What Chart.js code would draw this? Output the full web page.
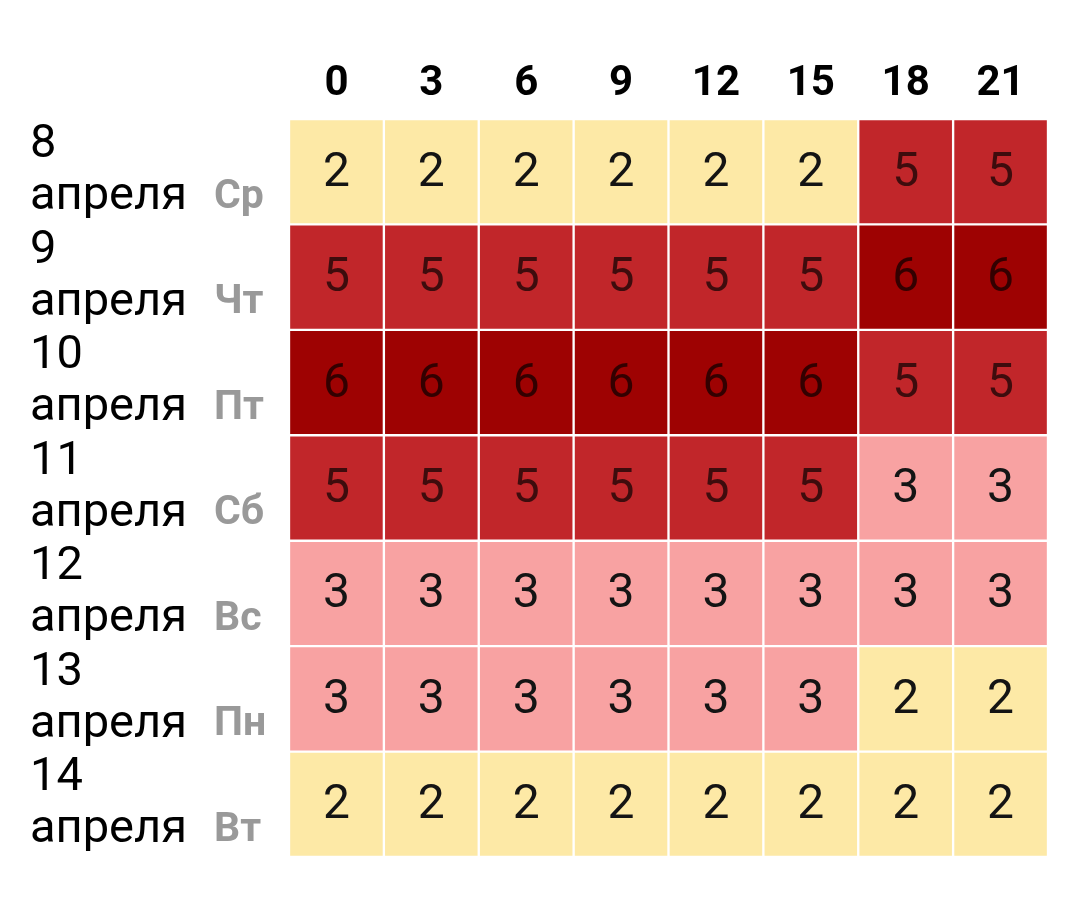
<!DOCTYPE html>
<html>
<head>
<meta charset="utf-8">
<script src="https://cdn.jsdelivr.net/npm/chart.js@4"></script>
<style>
  body { margin: 0; background: #fff; }
</style>
</head>
<body>
<canvas id="chart" width="1079" height="897"></canvas>
<script>
'use strict'

// column labels (hour of day)
const hours = ['0', '3', '6', '9', '12', '15', '18', '21']
// row labels
const days = ['8', '9', '10', '11', '12', '13', '14']
const month = 'апреля'
const weekdays = ['Ср', 'Чт', 'Пт', 'Сб', 'Вс', 'Пн', 'Вт']

// cell values, one array per row
const apr8 = [2, 2, 2, 2, 2, 2, 5, 5]
const apr9 = [5, 5, 5, 5, 5, 5, 6, 6]
const apr10 = [6, 6, 6, 6, 6, 6, 5, 5]
const apr11 = [5, 5, 5, 5, 5, 5, 3, 3]
const apr12 = [3, 3, 3, 3, 3, 3, 3, 3]
const apr13 = [3, 3, 3, 3, 3, 3, 2, 2]
const apr14 = [2, 2, 2, 2, 2, 2, 2, 2]
const rows = [apr8, apr9, apr10, apr11, apr12, apr13, apr14]

// colour for each level
const levelColors = {
  2: '#fde9a6',
  3: '#f8a2a2',
  5: '#c1262a',
  6: '#9e0202'
}

const cellLabels = {
  id: 'cellLabels',
  afterDatasetsDraw (chart) {
    const ctx = chart.ctx
    ctx.save()
    ctx.font = '48px Roboto'
    ctx.textAlign = 'center'
    ctx.textBaseline = 'middle'
    rows.forEach((row, i) => {
      const meta = chart.getDatasetMeta(i)
      meta.data.forEach((bar, j) => {
        // darker text on light cells, translucent black on the reds
        ctx.fillStyle = row[j] >= 5 ? 'rgba(0, 0, 0, 0.68)' : '#141414'
        ctx.fillText(String(row[j]), bar.x, (bar.y + bar.base) / 2 + 2)
      })
    })
    ctx.restore()
  }
}

const rowTicks = axis => {
  axis.ticks = days.map((d, i) => ({ value: i + 0.5 }))
}

// fixed width, no extra room for overflowing first/last labels
const fitRows = width => axis => {
  axis.width = width
  axis.paddingTop = 0
  axis.paddingBottom = 0
}

const ctx = document.getElementById('chart')

const heatChart = new Chart(ctx, {
  type: 'bar',
  data: {
    labels: hours,
    datasets: rows.map((row, i) => ({
      label: days[i] + ' ' + month,
      data: row.map(() => [i, i + 1]), // each cell spans one row
      backgroundColor: row.map(v => levelColors[v]),
      borderColor: '#ffffff',
      borderWidth: 1.5,
      borderSkipped: false,
      grouped: false,
      categoryPercentage: 1,
      barPercentage: 1
    }))
  },
  options: {
    responsive: false,
    animation: false,
    layout: { padding: { left: 30, right: 31, top: 0, bottom: 40 } },
    plugins: {
      legend: { display: false },
      tooltip: { enabled: false }
    },
    scales: {
      x: {
        position: 'top',
        grid: { display: false, drawTicks: false },
        border: { display: false },
        afterFit: axis => {
          axis.height = 119
          axis.paddingLeft = 0
          axis.paddingRight = 0
        },
        ticks: {
          padding: 9,
          color: '#000',
          font: { family: 'Roboto', size: 42, weight: 'bold' }
        }
      },
      y: {
        type: 'linear',
        position: 'left',
        weight: 1,
        min: 0,
        max: 7,
        reverse: true,
        grid: { display: false, drawTicks: false },
        border: { display: false },
        afterBuildTicks: rowTicks,
        afterFit: fitRows(184),
        ticks: {
          autoSkip: false,
          crossAlign: 'far',
          color: '#000',
          font: { family: 'Roboto', size: 47, lineHeight: '52px' },
          callback: value => [days[Math.floor(value)], month]
        }
      },
      y2: {
        type: 'linear',
        position: 'left',
        weight: 0,
        min: 0,
        max: 7,
        reverse: true,
        grid: { display: false, drawTicks: false },
        border: { display: false },
        afterBuildTicks: rowTicks,
        afterFit: fitRows(75),
        ticks: {
          autoSkip: false,
          crossAlign: 'far',
          color: '#999',
          font: { family: 'Roboto', size: 41, weight: 'bold', lineHeight: '52px' },
          callback: value => ['', weekdays[Math.floor(value)]]
        }
      }
    }
  },
  plugins: [cellLabels]
})

window.heatChart = heatChart
</script>
</body>
</html>
